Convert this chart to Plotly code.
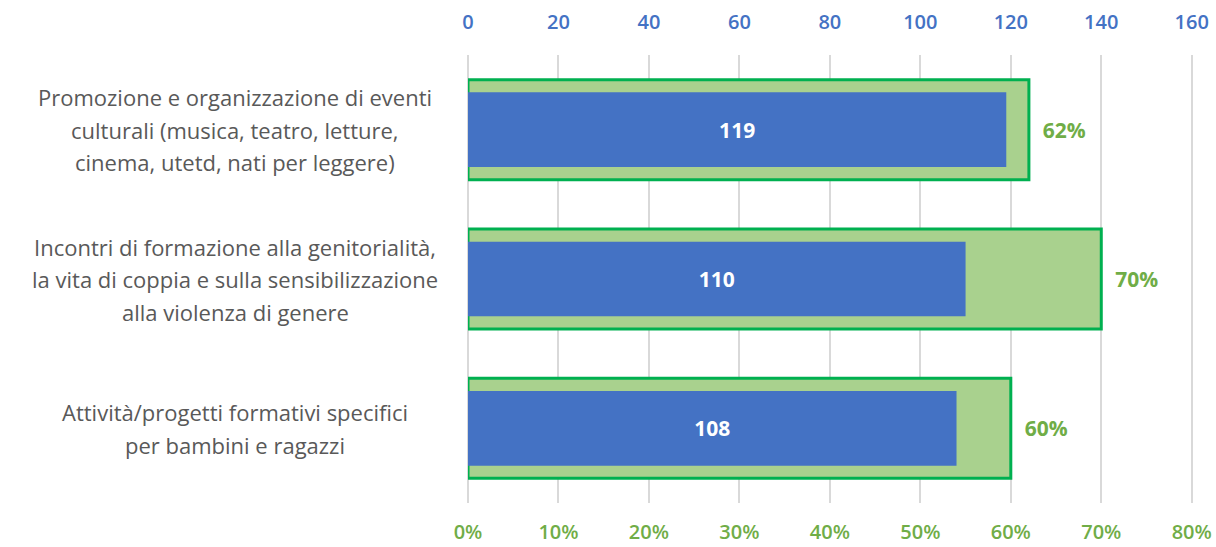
import plotly.graph_objects as go

categories = [
    "Promozione e organizzazione di eventi culturali",
    "Incontri di formazione alla genitorialità",
    "Attività/progetti formativi specifici",
]
label_lines = [
    ["Promozione e organizzazione di eventi",
     "culturali (musica, teatro, letture,",
     "cinema, utetd, nati per leggere)"],
    ["Incontri di formazione alla genitorialità,",
     "la vita di coppia e sulla sensibilizzazione",
     "alla violenza di genere"],
    ["Attività/progetti formativi specifici",
     "per bambini e ragazzi"],
]
counts = [119, 110, 108]
percents = [62, 70, 60]

count_ticks = [0, 20, 40, 60, 80, 100, 120, 140, 160]
percent_ticks = [0, 10, 20, 30, 40, 50, 60, 70, 80]

FONT = "Open Sans"
BLUE = "#4472C4"
GREEN_TXT = "#70AD47"
GREY = "#595959"

fig = go.Figure()

fig.add_trace(go.Bar(
    y=categories, x=percents, orientation="h",
    xaxis="x", yaxis="y",
    width=0.67,
    marker=dict(color="#A9D18E", line=dict(color="#00B050", width=3)),
    text=[f"\u00a0\u00a0{p}%" for p in percents],
    textposition="outside",
    constraintext="none",
    textfont=dict(family=FONT, size=21, color=GREEN_TXT, weight="bold"),
    cliponaxis=False,
    hoverinfo="skip",
))

fig.add_trace(go.Bar(
    y=categories, x=counts, orientation="h",
    xaxis="x2", yaxis="y",
    width=0.5,
    marker=dict(color=BLUE, line=dict(width=0)),
    text=[str(c) for c in counts],
    textposition="inside",
    insidetextanchor="middle",
    constraintext="none",
    textfont=dict(family=FONT, size=21, color="white", weight="bold"),
    hoverinfo="skip",
))

annotations = []
line_gap = 32.5
for cat, lines in zip(categories, label_lines):
    n = len(lines)
    for i, ln in enumerate(lines):
        off = ((n - 1) / 2 - i) * line_gap
        annotations.append(dict(
            x=0, xref="paper", y=cat, yref="y",
            text=ln, showarrow=False,
            xanchor="center", yanchor="middle",
            xshift=-233, yshift=off,
            font=dict(family=FONT, size=22, color=GREY),
        ))

fig.update_layout(
    width=1216, height=547,
    margin=dict(l=468, r=22, t=55, b=44, autoexpand=False),
    paper_bgcolor="white", plot_bgcolor="white",
    barmode="overlay",
    showlegend=False,
    annotations=annotations,
    xaxis=dict(
        range=[0, 80.25], tickvals=percent_ticks,
        ticktext=[f"{t}%" for t in percent_ticks],
        side="bottom", automargin=False,
        showgrid=True, gridcolor="#D9D9D9", gridwidth=2,
        zeroline=True, zerolinecolor="#D9D9D9", zerolinewidth=2,
        showline=False, ticks="",
        tickfont=dict(family=FONT, size=20, color=GREEN_TXT, weight=600),
        ticklabelstandoff=15,
    ),
    xaxis2=dict(
        range=[0, 160.5], tickvals=count_ticks,
        overlaying="x", side="top", automargin=False,
        showgrid=False, zeroline=False, showline=False, ticks="",
        tickfont=dict(family=FONT, size=20, color=BLUE, weight=600),
        ticklabelstandoff=21,
    ),
    yaxis=dict(
        type="category", categoryarray=categories,
        range=[2.5, -0.5], automargin=False,
        showticklabels=False, showgrid=False, zeroline=False,
    ),
)

fig.write_html("out.html")
